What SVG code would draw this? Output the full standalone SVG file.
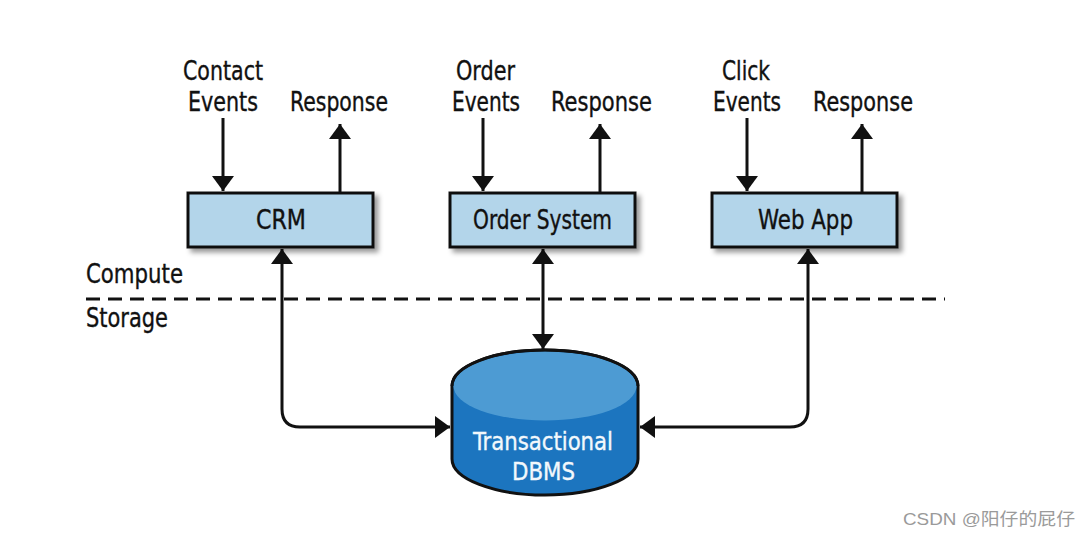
<svg xmlns="http://www.w3.org/2000/svg" width="1090" height="540" viewBox="0 0 1090 540">
<style>
.t{font-family:"Liberation Sans Narrow","DejaVu Sans Condensed","Liberation Sans",sans-serif;font-size:26px;fill:#111;stroke:#111;stroke-width:0.35}
.w{fill:#f2f8fc;stroke:#f2f8fc;font-size:25px}
.box{fill:#b3d5ea;stroke:#111;stroke-width:3;filter:url(#sh)}
.ln{fill:none;stroke:#111;stroke-width:3}
.wm{font-family:"Liberation Sans","Noto Sans CJK SC",sans-serif;font-size:17px;fill:#9a9a9a}
</style>
<defs>
<filter id="sh" x="-10%" y="-20%" width="130%" height="160%">
<feDropShadow dx="4" dy="4" stdDeviation="2.5" flood-color="#000" flood-opacity="0.4"/>
</filter>
<marker id="ah" viewBox="0 0 15 22" refX="15" refY="11" markerWidth="15" markerHeight="22" markerUnits="userSpaceOnUse" orient="auto-start-reverse">
<path d="M0,0 L15,11 L0,22 Z" fill="#111"/>
</marker>
</defs>
<rect width="1090" height="540" fill="#fff"/>

<g id="divider">
<line x1="86" y1="299" x2="945" y2="299" stroke="#111" stroke-width="3" stroke-dasharray="14 8"/>
<text class="t" x="86" y="283" textLength="97" lengthAdjust="spacingAndGlyphs">Compute</text>
<text class="t" x="86" y="327" textLength="82" lengthAdjust="spacingAndGlyphs">Storage</text>
</g>

<g id="connectors">
<path class="ln" d="M223,118 L223,191" marker-end="url(#ah)"/>
<path class="ln" d="M340,193 L340,124" marker-end="url(#ah)"/>
<path class="ln" d="M483,118 L483,191" marker-end="url(#ah)"/>
<path class="ln" d="M600,193 L600,124" marker-end="url(#ah)"/>
<path class="ln" d="M747,118 L747,191" marker-end="url(#ah)"/>
<path class="ln" d="M862,193 L862,124" marker-end="url(#ah)"/>
<path class="ln" d="M282,249 L282,409 Q282,427 300,427 L450,427" marker-start="url(#ah)" marker-end="url(#ah)"/>
<path class="ln" d="M543,249 L543,349" marker-start="url(#ah)" marker-end="url(#ah)"/>
<path class="ln" d="M808,249 L808,409 Q808,427 790,427 L640,427" marker-start="url(#ah)" marker-end="url(#ah)"/>
</g>

<g id="labels">
<text class="t" x="183" y="80" textLength="80" lengthAdjust="spacingAndGlyphs">Contact</text>
<text class="t" x="188" y="111" textLength="70" lengthAdjust="spacingAndGlyphs">Events</text>
<text class="t" x="290" y="111" textLength="98" lengthAdjust="spacingAndGlyphs">Response</text>
<text class="t" x="456" y="80" textLength="59" lengthAdjust="spacingAndGlyphs">Order</text>
<text class="t" x="452" y="111" textLength="68" lengthAdjust="spacingAndGlyphs">Events</text>
<text class="t" x="551" y="111" textLength="101" lengthAdjust="spacingAndGlyphs">Response</text>
<text class="t" x="722" y="80" textLength="48" lengthAdjust="spacingAndGlyphs">Click</text>
<text class="t" x="713" y="111" textLength="68" lengthAdjust="spacingAndGlyphs">Events</text>
<text class="t" x="813" y="111" textLength="100" lengthAdjust="spacingAndGlyphs">Response</text>
</g>

<g id="crm">
<rect class="box" x="188" y="193" width="185" height="54"/>
<text class="t" x="256" y="229" textLength="50" lengthAdjust="spacingAndGlyphs">CRM</text>
</g>
<g id="order-system">
<rect class="box" x="450" y="193" width="185" height="54"/>
<text class="t" x="473" y="229" textLength="139" lengthAdjust="spacingAndGlyphs">Order System</text>
</g>
<g id="web-app">
<rect class="box" x="712" y="193" width="185" height="54"/>
<text class="t" x="758" y="229" textLength="95" lengthAdjust="spacingAndGlyphs">Web App</text>
</g>

<g id="dbms">
<path d="M452,386 A93,36 0 0 1 638,386 L638,459 A93,36 0 0 1 452,459 Z" fill="#1c75bf" stroke="#111" stroke-width="3"/>
<ellipse cx="545" cy="386" rx="91.5" ry="34.5" fill="#4d9bd3"/>
<path d="M452,386 A93,36 0 0 1 638,386" fill="none" stroke="#111" stroke-width="3"/>
<text class="t w" x="473" y="450" textLength="140" lengthAdjust="spacingAndGlyphs">Transactional</text>
<text class="t w" x="512" y="480" textLength="63" lengthAdjust="spacingAndGlyphs">DBMS</text>
</g>

<text class="wm" x="903" y="525" textLength="172" lengthAdjust="spacingAndGlyphs">CSDN @阳仔的屁仔</text>
</svg>
